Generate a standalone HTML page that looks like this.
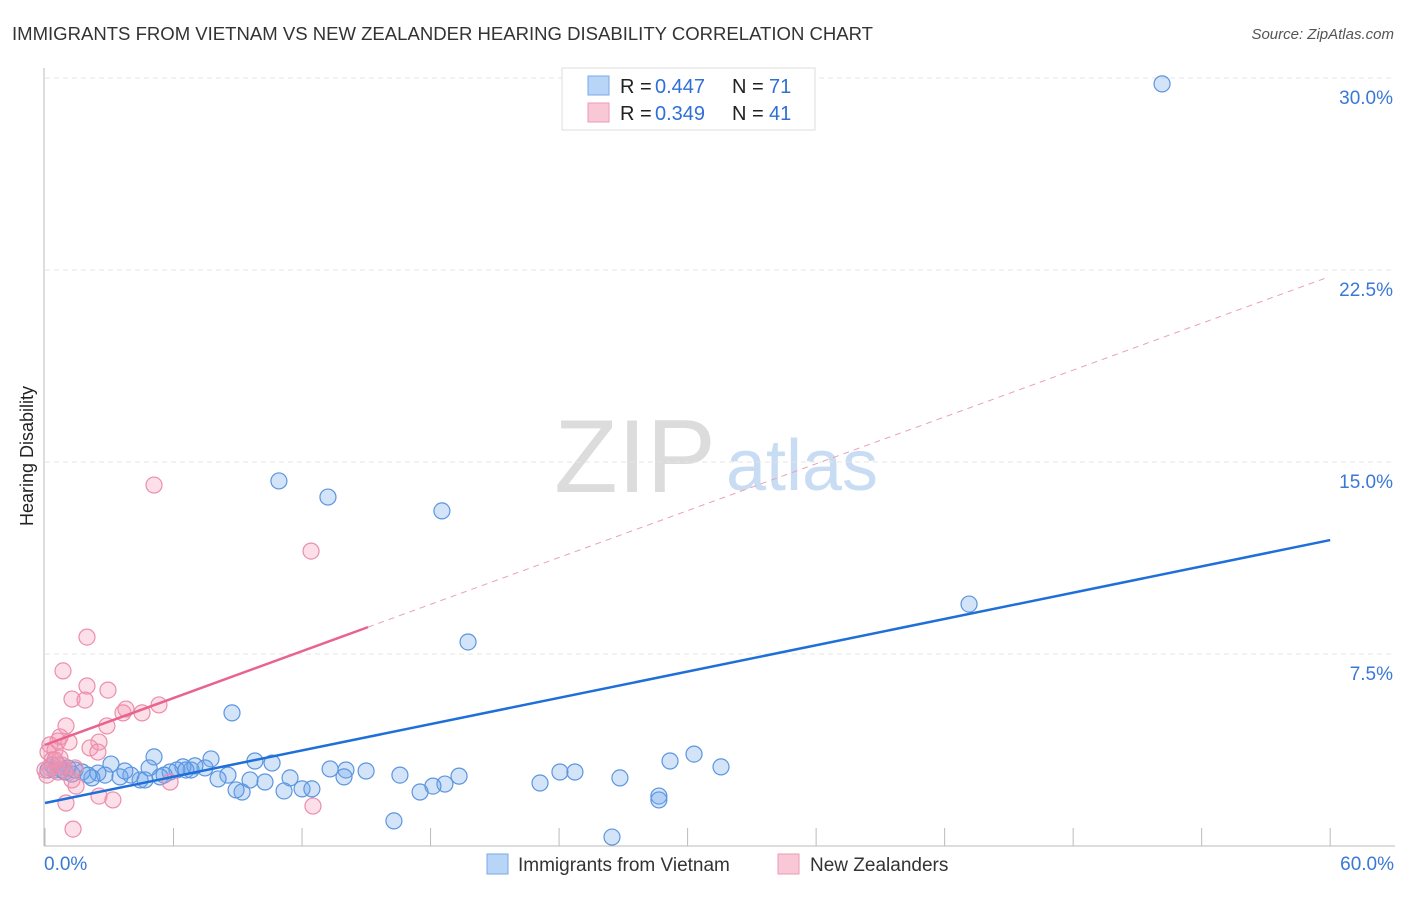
<!DOCTYPE html>
<html><head><meta charset="utf-8">
<style>
body{margin:0;background:#fff;font-family:"Liberation Sans",sans-serif;}
svg text{font-family:"Liberation Sans",sans-serif;}
</style></head>
<body>
<svg id="chart" width="1406" height="892" xmlns="http://www.w3.org/2000/svg">
<text x="12" y="40" font-size="18" fill="#333" textLength="861" lengthAdjust="spacingAndGlyphs">IMMIGRANTS FROM VIETNAM VS NEW ZEALANDER HEARING DISABILITY CORRELATION CHART</text>
<text x="1394" y="39" font-size="15" fill="#555" font-style="italic" text-anchor="end">Source: ZipAtlas.com</text>
<g>
<text x="635" y="492" font-size="104" fill="#dcdcdc" font-family="Liberation Serif" text-anchor="middle">ZIP</text>
<text x="802" y="490" font-size="72" fill="#c8dcf4" text-anchor="middle">atlas</text>
</g>
<text transform="translate(33,456) rotate(-90)" font-size="18" fill="#222" text-anchor="middle">Hearing Disability</text>
<g id="grid"></g>
<g id="axes"></g>
<g id="marks"></g>
<g>
<rect x="562" y="68" width="253" height="62" fill="#fff" stroke="#ddd"/>
<rect x="588" y="76" width="21" height="19" fill="#b8d4f6" stroke="#7aaae6"/>
<rect x="588" y="103" width="21" height="19" fill="#f9c8d6" stroke="#ee9ab4"/>
<text x="620" y="93" font-size="20" fill="#222">R =</text>
<text x="655" y="93" font-size="20" fill="#2f6fd6">0.447</text>
<text x="732" y="93" font-size="20" fill="#222">N =</text>
<text x="769" y="93" font-size="20" fill="#2f6fd6">71</text>
<text x="620" y="120" font-size="20" fill="#222">R =</text>
<text x="655" y="120" font-size="20" fill="#2f6fd6">0.349</text>
<text x="732" y="120" font-size="20" fill="#222">N =</text>
<text x="769" y="120" font-size="20" fill="#2f6fd6">41</text>
</g>
<g>
<rect x="487" y="854" width="21" height="20" fill="#b8d4f6" stroke="#7aaae6"/>
<text x="518" y="871" font-size="19" fill="#333">Immigrants from Vietnam</text>
<rect x="778" y="854" width="21" height="20" fill="#f9c8d6" stroke="#ee9ab4"/>
<text x="810" y="871" font-size="19" fill="#333">New Zealanders</text>
</g>
</svg>
<script>
const yTicks=[7.5,15,22.5,30];
const yTickLabels=["7.5%","15.0%","22.5%","30.0%"];
const xTicks=[0,6,12,18,24,30,36,42,48,54,60];
const xLabels=["0.0%","60.0%"];
const blueX=[52.15,10.92,13.21,18.53,43.14,19.75,8.73,5.09,3.08,7.75,9.80,10.60,30.30,29.18,31.56,24.04,24.74,26.84,23.11,19.33,16.57,18.67,18.11,17.51,13.31,14.05,14.99,13.96,11.44,12.0,11.16,12.46,10.27,9.20,9.57,8.92,8.54,8.08,7.47,6.82,6.44,6.16,5.84,5.56,5.37,4.86,4.44,4.01,3.50,2.80,2.47,2.19,1.73,1.40,1.07,0.79,0.47,0.33,0.14,0.61,0.93,1.26,2.01,16.29,26.47,28.66,28.66,4.67,3.73,7.0,6.58];
const blueY=[29.77,14.26,13.63,13.09,9.45,7.97,5.20,3.48,3.20,3.40,3.32,3.24,3.59,3.32,3.09,2.89,2.89,2.66,2.46,2.73,2.77,2.42,2.34,2.11,3.01,2.97,2.93,2.70,2.66,2.23,2.15,2.23,2.50,2.11,2.58,2.19,2.77,2.62,3.05,2.97,3.09,2.97,2.89,2.77,2.70,3.05,2.58,2.77,2.70,2.77,2.85,2.66,2.89,2.97,3.05,2.97,2.97,3.16,2.97,3.16,2.89,2.81,2.77,0.98,0.35,1.95,1.80,2.58,2.93,3.13,2.97];
const pinkX=[5.09,12.42,1.96,0.84,1.96,2.94,1.26,1.87,5.32,3.78,4.53,3.64,0.98,2.89,0.70,0.61,1.12,0.23,2.52,2.10,2.47,0.47,0.14,0.33,0.79,0.23,0.09,0.61,1.40,0.93,1.26,1.45,2.52,3.17,0.98,5.84,12.51,1.31,0.47,0.70,0];
const pinkY=[14.10,11.52,8.16,6.84,6.25,6.09,5.74,5.70,5.51,5.35,5.20,5.20,4.69,4.69,4.26,4.10,4.06,3.95,4.06,3.83,3.67,3.75,3.67,3.36,3.16,3.05,2.77,2.89,3.05,2.97,2.58,2.34,1.95,1.80,1.68,2.50,1.56,0.66,3.36,3.44,2.97];
const blueLine=[1.68,11.95]; // y at x=0 and x=60
const pinkLine=[3.95,0.305]; // intercept, slope
const pinkSolidEnd=15.08, pinkDashEnd=59.8;

const X=v=>45+v*21.42, Y=v=>846-v*25.6;
const NS="http://www.w3.org/2000/svg";
function mk(tag,attrs,parent){const e=document.createElementNS(NS,tag);for(const k in attrs)e.setAttribute(k,attrs[k]);parent.appendChild(e);return e;}
const grid=document.getElementById('grid'),axes=document.getElementById('axes'),marks=document.getElementById('marks');
yTicks.forEach((t,i)=>{
 const l=mk('line',{x1:45,x2:1395,y1:Y(t),y2:Y(t),stroke:'#e4e4e4','stroke-dasharray':'5,4'},grid);
 
 
 const tx=mk('text',{x:1393,y:Y(t)+26,'font-size':19,fill:'#3a78d6','text-anchor':'end'},grid);
 tx.textContent=yTickLabels[i];
 
 
});
const ax=mk('line',{x1:44,x2:44,y1:68,y2:846,stroke:'#bbb'},axes);


const bx=mk('line',{x1:44,x2:1395,y1:846,y2:846,stroke:'#bbb'},axes);


xTicks.forEach(t=>{
 const l=mk('line',{x1:X(t),x2:X(t),y1:828,y2:846,stroke:'#bbb'},axes);
 
 
});
[[0,xLabels[0],'start',44],[60,xLabels[1],'end',1394]].forEach(a=>{
 const tx=mk('text',{x:a[3],y:870,'font-size':19,fill:'#3a78d6','text-anchor':a[2]},axes);
 tx.textContent=a[1];
 
 
});
blueX.forEach((v,i)=>{
 const c=mk('circle',{cx:X(v),cy:Y(blueY[i]),r:8,fill:'rgba(110,165,235,0.3)',stroke:'#5b95df','stroke-width':1.2},marks);
 
 
});
pinkX.forEach((v,i)=>{
 const c=mk('circle',{cx:X(v),cy:Y(pinkY[i]),r:8,fill:'rgba(245,150,180,0.3)',stroke:'#eb8eab','stroke-width':1.2},marks);
 
 
});
const bl=mk('line',{x1:X(0),y1:Y(blueLine[0]),x2:X(60),y2:Y(blueLine[1]),stroke:'#1f6fd8','stroke-width':2.5},marks);


const pf=x=>pinkLine[0]+pinkLine[1]*x;
const pd=mk('line',{x1:X(pinkSolidEnd),y1:Y(pf(pinkSolidEnd)),x2:X(pinkDashEnd),y2:Y(pf(pinkDashEnd)),stroke:'#eaa0b8','stroke-width':1,'stroke-dasharray':'6,5'},marks);


const ps=mk('line',{x1:X(0),y1:Y(pf(0)),x2:X(pinkSolidEnd),y2:Y(pf(pinkSolidEnd)),stroke:'#e8648e','stroke-width':2.5},marks);


</script>
</body></html>
